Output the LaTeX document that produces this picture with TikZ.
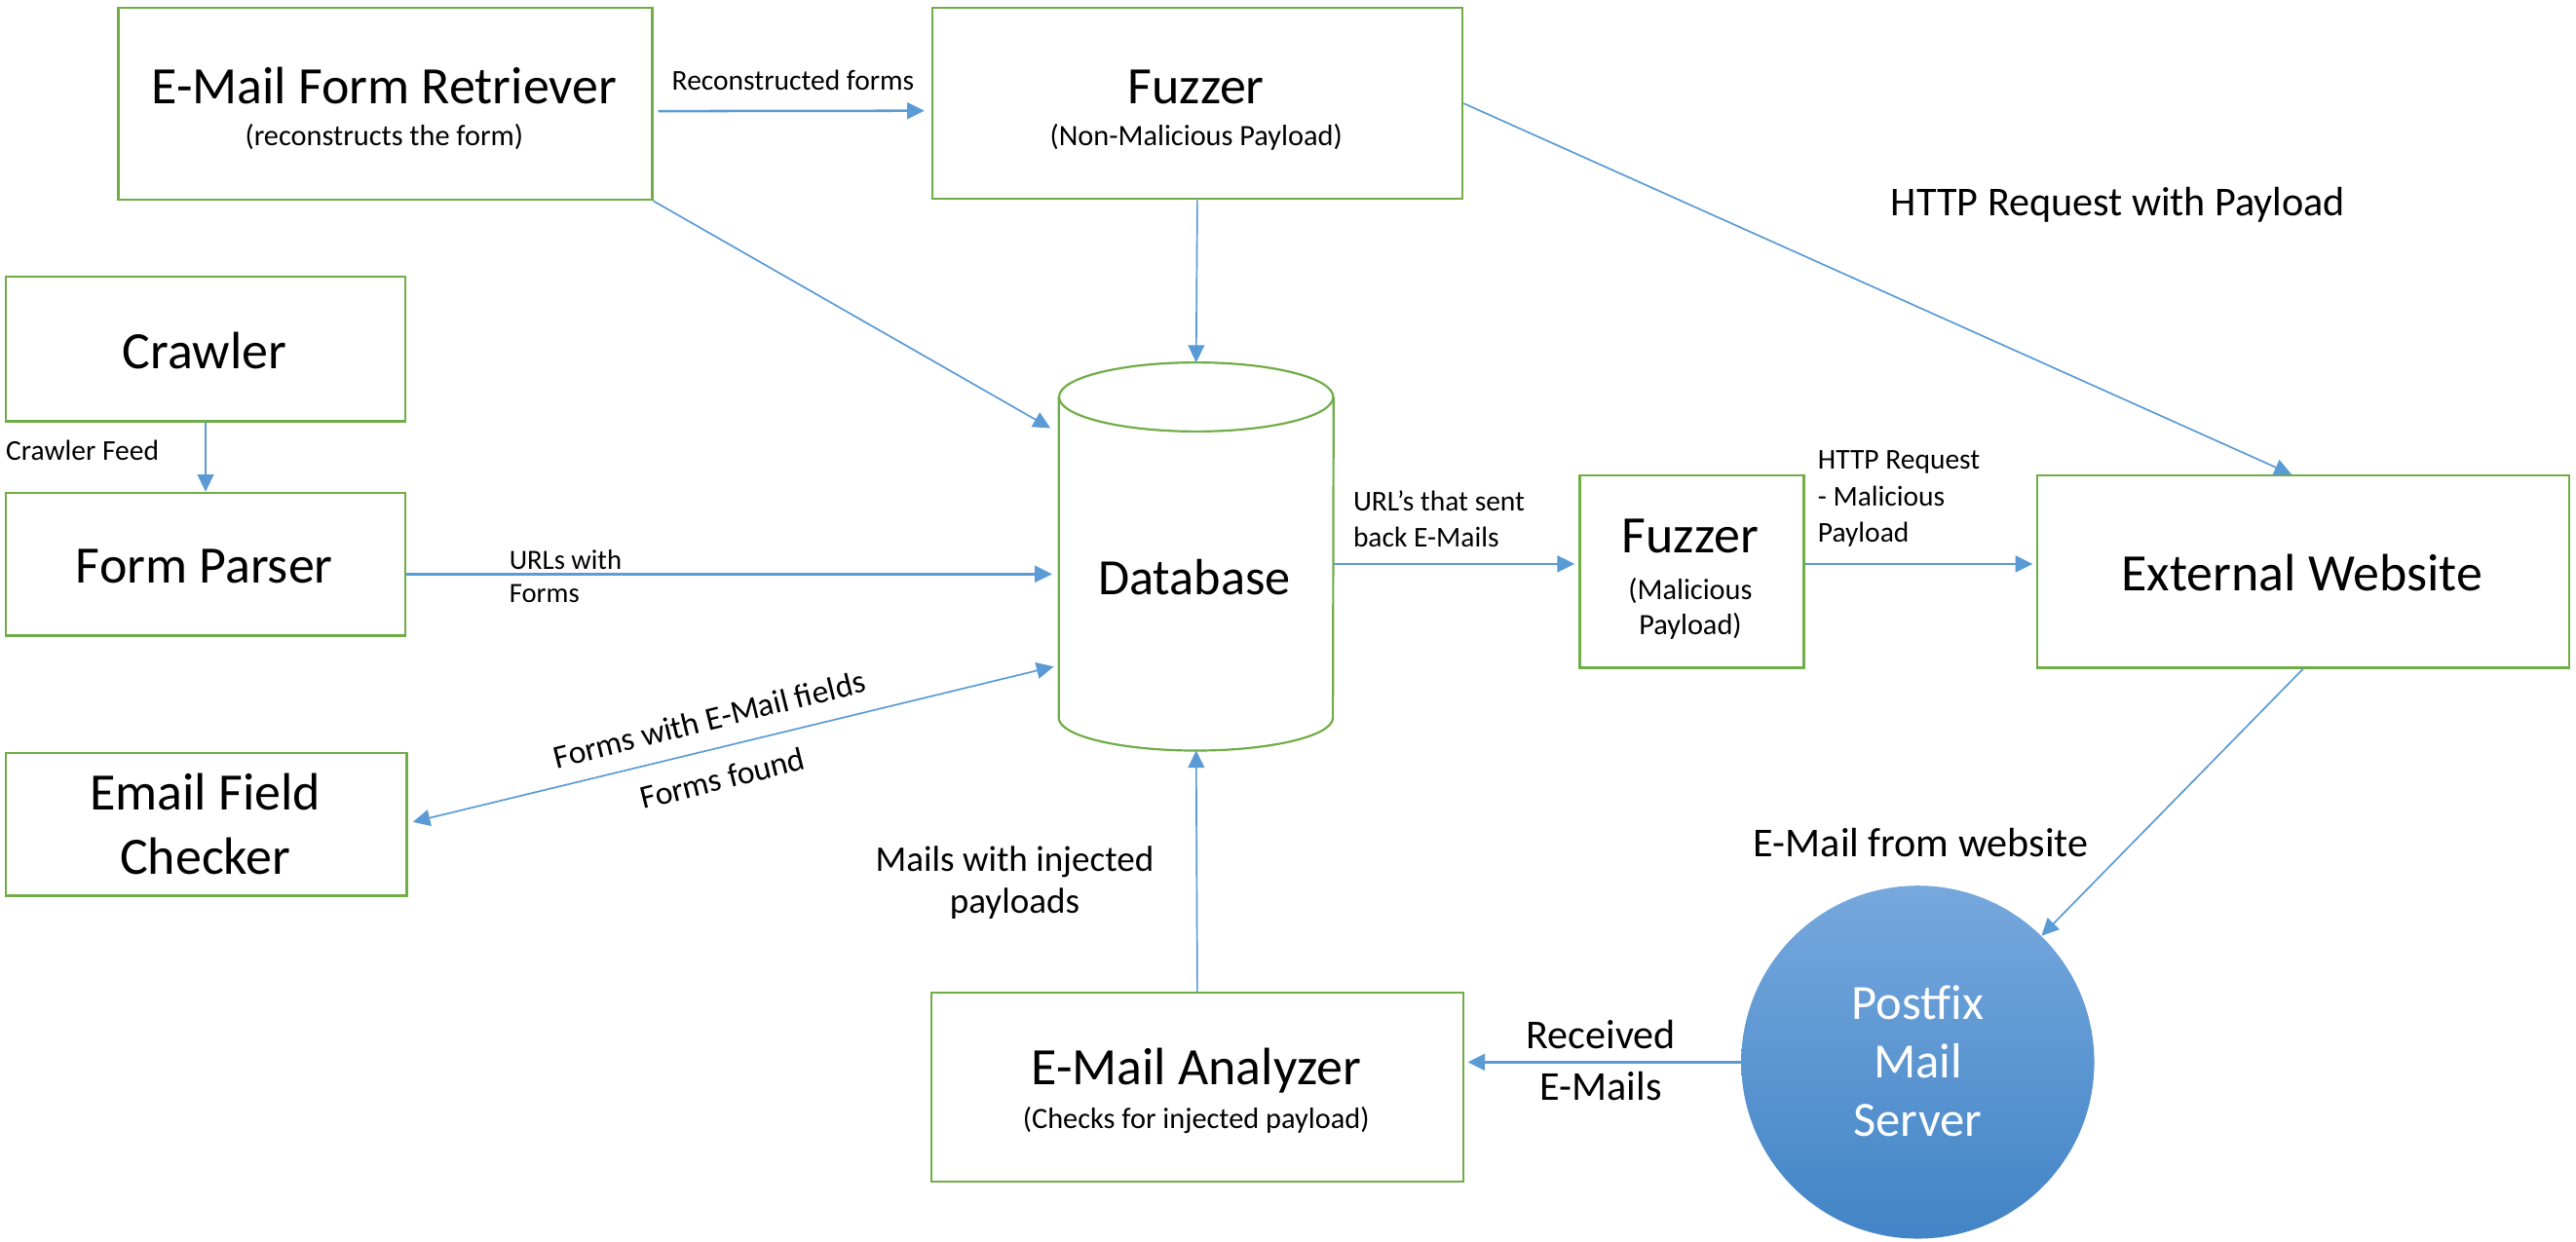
\documentclass[tikz,border=0pt]{standalone}
\usepackage{fontspec}
\setmainfont{Carlito}
\usetikzlibrary{arrows.meta,calc}

\definecolor{boxgreen}{RGB}{112,173,71}
\definecolor{arrowblue}{RGB}{91,155,213}
\definecolor{circtop}{RGB}{118,168,221}
\definecolor{circbot}{RGB}{66,132,198}

\newcommand{\fbig}{\fontsize{32}{39.5}\selectfont}
\newcommand{\fsub}{\fontsize{18}{21.5}\selectfont}
\newcommand{\fsmall}{\fontsize{17.5}{22}\selectfont}
\newcommand{\fmed}{\fontsize{25}{31.5}\selectfont}

\begin{document}
\begin{tikzpicture}[x=1pt,y=-1pt,
  box/.style={draw=boxgreen, line width=1.4pt, inner sep=0pt, anchor=north west},
  txt/.style={inner sep=0pt, anchor=base, align=center},
  ltxt/.style={inner sep=0pt, anchor=base west, align=left},
  tip/.style={-{Triangle[length=10.5pt,width=10pt]}},
  arrthick/.style={draw=arrowblue, line width=1.5pt, tip},
  arrthin/.style={draw=arrowblue, line width=1.0pt, tip},
  dbline/.style={draw=boxgreen, line width=1.3pt}]

\fill[white] (0,0) rectangle (1568.9,756);
\useasboundingbox (0,0) rectangle (1568.9,756);

% ---------- boxes ----------
\node[box, minimum width=325, minimum height=117] (ret) at (71.5,4) {};
\node[box, minimum width=323, minimum height=116.5] (fuz) at (567,4) {};
\node[box, minimum width=243, minimum height=88] (crw) at (3,168) {};
\node[box, minimum width=243, minimum height=87] (fp) at (3,299.5) {};
\node[box, minimum width=244, minimum height=87] (efc) at (3,458) {};
\node[box, minimum width=136.5, minimum height=117] (fm) at (961.5,289) {};
\node[box, minimum width=324, minimum height=117] (ext) at (1240,289) {};
\node[box, minimum width=324, minimum height=115] (ea) at (566.5,604) {};

% ---------- database cylinder ----------
\node[inner sep=0pt, minimum width=167, minimum height=236] (db) at (728.5,339) {};
\draw[dbline] ($(db.north)+(0,21)$) ellipse [x radius=83.5pt, y radius=21pt];
\draw[dbline] ($(db.north west)+(0,21)$) -- ($(db.south west)+(0,-20)$)
  arc[start angle=180, end angle=360, x radius=83.5pt, y radius=20pt]
  -- ($(db.north east)+(0,21)$);

% ---------- mail server ----------
\node[circle, draw=none, minimum size=215, inner sep=0pt,
      top color=circtop, bottom color=circbot] (pf) at (1168,647) {};

% ---------- texts in shapes (multi-line: base = last line) ----------
\node[txt, font=\fbig] (retT) at (234,63) {E-Mail Form Retriever};
\node[txt, font=\fsub] (retS) at (234,89) {(reconstructs the form)};
\node[txt, font=\fbig] (fuzT) at (728.5,63) {Fuzzer};
\node[txt, font=\fsub] (fuzS) at (728.5,89) {(Non-Malicious Payload)};
\node[txt, font=\fbig] (crwT) at (124.5,224.4) {Crawler};
\node[txt, font=\fbig] (fpT) at (124.5,355) {Form Parser};
\node[txt, font=\fbig] (efcT) at (125,532.6) {Email Field\\Checker};
\node[txt, font=\fontsize{31}{38}\selectfont] (dbT) at (727.5,362) {Database};
\node[txt, font=\fbig] (fmT) at (1029.5,337) {Fuzzer};
\node[txt, font=\fsub] (fmS) at (1029.5,386.5) {(Malicious\\Payload)};
\node[txt, font=\fbig] (extT) at (1402,360) {External Website};
\node[txt, font=\fbig] (eaT) at (728.5,661) {E-Mail Analyzer};
\node[txt, font=\fsub] (eaS) at (728.5,687.5) {(Checks for injected payload)};
\node[txt, font=\fontsize{30}{35.5}\selectfont, text=white] (pfT) at (1168,692) {Postfix\\Mail\\Server};

% ---------- connectors ----------
\draw[arrthick, shorten <=3pt, shorten >=4pt] ($(ret.east)+(0,4.5)$) -- ($(fuz.west)+(0,4.5)$);
\draw[arrthin] (fuz.south) -- (db.north);
\draw[arrthin] (ret.south east) -- ($(db.north west)+(-5,40)$);
\draw[arrthin] (fuz.east) -- ($(ext.north)+(-7,0)$);
\draw[arrthin] (crw.south) -- (fp.north);
\path ($(fp.east)+(0,6)$) coordinate (fpout);
\draw[arrthick, shorten >=4pt] (fpout) -- (fpout -| db.west);
\draw[draw=arrowblue, line width=1.0pt, {Triangle[length=10.5pt,width=10pt]}-{Triangle[length=10.5pt,width=10pt]}]
  ($(efc.east)+(3,-1.5)$) -- ($(db.west)+(-3,67)$);
\path ($(db.east)+(0,4.5)$) coordinate (dbout);
\draw[arrthick, shorten >=2.5pt] (dbout) -- (dbout -| fm.west);
\path (dbout -| fm.east) coordinate (fmout);
\draw[arrthick, shorten >=2pt] (fmout) -- (fmout -| ext.west);
\draw[arrthin] (ext.south) -- (pf);
\draw[arrthick, shorten >=2pt] (pf.west) -- (pf.west -| ea.east);
\draw[arrthin] (ea.north) -- (db.south);

% ---------- connector labels ----------
\node[txt, font=\fsmall] (lRec) at (483,55) {Reconstructed forms};
\node[txt, font=\fmed] (lHttp) at (1290,131.5) {HTTP Request with Payload};
\node[ltxt, font=\fsmall] (lFeed) at (3.5,280.5) {Crawler Feed};
\node[ltxt, font=\fontsize{17}{20}\selectfont] (lUrls) at (310,367) {URLs with\\Forms};
\node[inner sep=0pt, font=\fontsize{20}{24}\selectfont, rotate=14] (lFwe) at (432,438) {Forms with E-Mail fields};
\node[inner sep=0pt, font=\fontsize{20}{24}\selectfont, rotate=14] (lFf) at (440,474) {Forms found};
\node[txt, font=\fontsize{22}{25.5}\selectfont] (lMails) at (618,556.5) {Mails with injected\\payloads};
\node[txt, font=\fmed] (lFrom) at (1170,522) {E-Mail from website};
\node[txt, font=\fmed] (lRecv) at (975,670) {Received\\E-Mails};
\node[ltxt, font=\fsmall] (lUrlsent) at (824,333) {URL’s that sent\\back E-Mails};
\node[ltxt, font=\fsmall] (lHttpM) at (1107,330) {HTTP Request\\- Malicious\\Payload};

\end{tikzpicture}
\end{document}
